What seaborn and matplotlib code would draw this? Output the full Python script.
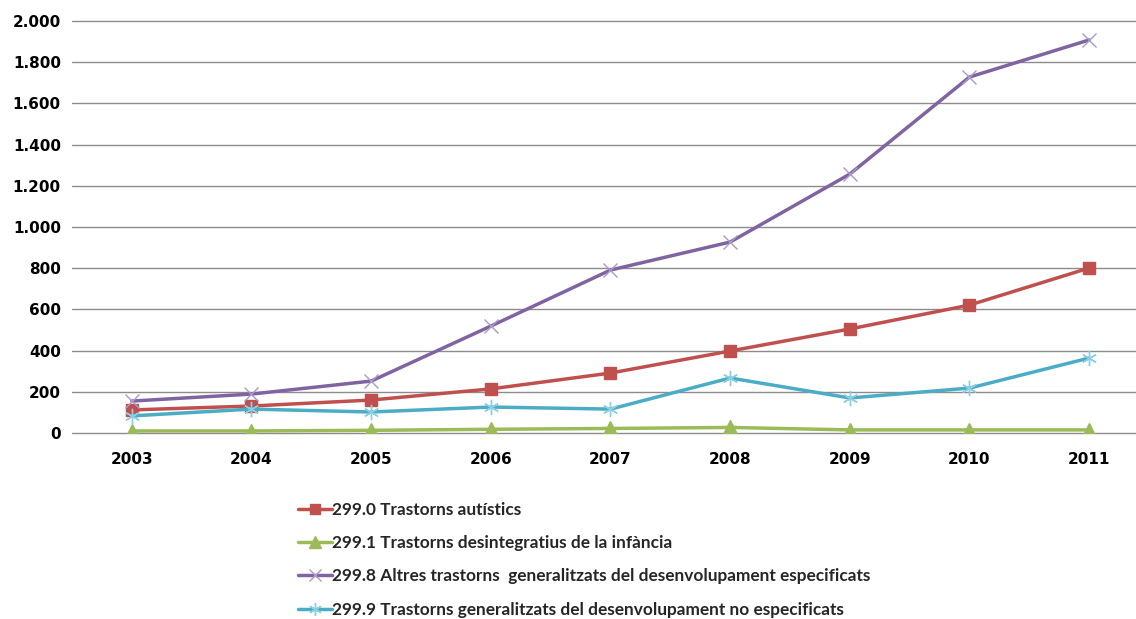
import matplotlib
matplotlib.use("Agg")
import matplotlib.pyplot as plt
import seaborn as sns
import pandas as pd
from matplotlib.ticker import FuncFormatter

years = [2003, 2004, 2005, 2006, 2007, 2008, 2009, 2010, 2011]
autistics = [112, 131, 160, 214, 291, 398, 505, 621, 801]
desintegratius = [10, 10, 13, 18, 22, 27, 15, 15, 15]
altres = [155, 189, 252, 519, 791, 927, 1257, 1728, 1908]
no_especificats = [83, 116, 102, 126, 116, 267, 170, 218, 364]

labels = [
    "299.0 Trastorns autístics",
    "299.1 Trastorns desintegratius de la infància",
    "299.8 Altres trastorns  generalitzats del desenvolupament especificats",
    "299.9 Trastorns generalitzats del desenvolupament no especificats",
]
series = [autistics, desintegratius, altres, no_especificats]

sns.set_theme(style="white")
plt.rcParams["font.family"] = ["DejaVu Sans"]

fig = plt.figure(figsize=(11.36, 6.19), dpi=100)
left = 72 / 1136
right_px = 1149
ax = fig.add_axes([left, 1 - 433 / 619, (right_px - 72) / 1136, (433 - 21) / 619])

styles = [
    dict(color="#C0504D", marker="s", ms=9, mfc="#C0504D", mec="#C0504D", mew=1),
    dict(color="#9BBB59", marker="^", ms=10, mfc="#9BBB59", mec="#9BBB59", mew=1),
    dict(color="#8064A2", marker="x", ms=10, mfc="none", mec="#A99BC9", mew=1),
    dict(color="#4BACC6", marker=(6, 2, 0), ms=11, mfc="none", mec="#8CCFE2", mew=1),
]

for vals, lab, st in zip(series, labels, styles):
    df = pd.DataFrame({"year": years, "value": vals})
    sns.lineplot(data=df, x="year", y="value", ax=ax, label=lab,
                 color=st["color"], linewidth=2.5, marker=st["marker"],
                 markersize=st["ms"], markerfacecolor=st["mfc"],
                 markeredgecolor=st["mec"], markeredgewidth=st["mew"])

ax.set_xlim(2002.5, 2011.5)
ax.set_ylim(0, 2000)
ax.set_yticks(range(0, 2001, 200))
ax.set_xticks(years)
ax.yaxis.set_major_formatter(FuncFormatter(lambda v, p: f"{int(v):,}".replace(",", ".")))
ax.grid(axis="y", color="#8c8c8c", linewidth=1)
ax.set_axisbelow(True)
for gl in ax.get_ygridlines():
    gl.set_clip_on(False)
for s in ax.spines.values():
    s.set_visible(False)
ax.tick_params(axis="both", length=0, labelsize=11)
ax.tick_params(axis="x", pad=14)
ax.tick_params(axis="y", pad=8)
for t in ax.get_xticklabels() + ax.get_yticklabels():
    t.set_fontweight("bold")
    t.set_color("black")
ax.set_xlabel("")
ax.set_ylabel("")

handles, labs = ax.get_legend_handles_labels()
ax.legend_.remove()
fig.legend(handles, labs, loc="upper left", bbox_to_anchor=(298 / 1136, 1 - 502 / 619),
           frameon=False, handlelength=2.0, handletextpad=0.0, labelspacing=1.0,
           prop=dict(family="Lato", weight="bold", size=12.4), borderaxespad=0, borderpad=0,
           markerscale=0.85)

fig.savefig("out.png", dpi=100)
